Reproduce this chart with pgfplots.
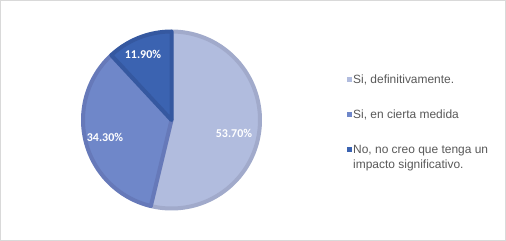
\documentclass[border=0pt]{standalone}
\usepackage{pgfplots}
\pgfplotsset{compat=1.18}
\usepackage{fontspec}
\setmainfont{Liberation Sans}
\newfontfamily\lblfont{Carlito}
\definecolor{cA}{HTML}{B1BCDE}
\definecolor{cAd}{HTML}{A1AACB}
\definecolor{cB}{HTML}{6F87C9}
\definecolor{cBd}{HTML}{6679B9}
\definecolor{cC}{HTML}{3B63B1}
\definecolor{cCd}{HTML}{3558A0}
\definecolor{frame}{HTML}{D9D9D9}
\definecolor{legtext}{HTML}{595959}
\begin{document}
\begin{tikzpicture}
\useasboundingbox (0,0) rectangle (506bp,241bp);
\fill[white] (0,0) rectangle (506bp,241bp);
\draw[color=frame, line width=1bp] (0.5bp,0.5bp) rectangle (505.5bp,240.5bp);
\pgfmathsetmacro{\tot}{53.7+34.3+11.9}
\pgfmathsetmacro{\aA}{90}
\pgfmathsetmacro{\aB}{90-(53.7/\tot)*360}
\pgfmathsetmacro{\aC}{\aB-(34.3/\tot)*360}
\pgfmathsetmacro{\aD}{\aC-(11.9/\tot)*360}
\begin{axis}[at={(171.5bp,121bp)}, anchor=center, width=200bp, height=200bp,
  scale only axis, xmin=-100, xmax=100, ymin=-100, ymax=100, hide axis, clip=false]
\addplot[fill=cA, draw=cAd, line width=4bp, line join=round, domain=\aB:\aA, samples=150, variable=\t]
  ({88.5*cos(\t)},{88.5*sin(\t)}) -- (0,0) -- cycle;
\addplot[fill=cB, draw=cBd, line width=4bp, line join=round, domain=\aC:\aB, samples=120, variable=\t]
  ({88.5*cos(\t)},{88.5*sin(\t)}) -- (0,0) -- cycle;
\addplot[fill=cC, draw=cCd, line width=4bp, line join=round, domain=\aD:\aC, samples=60, variable=\t]
  ({88.5*cos(\t)},{88.5*sin(\t)}) -- (0,0) -- cycle;
\node[text=white, font=\lblfont\bfseries\fontsize{12}{14}\selectfont] at (axis cs:62.5,-13) {53.70\%};
\node[text=white, font=\lblfont\bfseries\fontsize{12}{14}\selectfont] at (axis cs:-66.5,-17) {34.30\%};
\node[text=white, font=\lblfont\bfseries\fontsize{12}{14}\selectfont] at (axis cs:-28.5,66) {11.90\%};
\end{axis}
% legend
\fill[cA] (346.5bp,158.7bp) rectangle ++(5.5bp,5.5bp);
\fill[cB] (346.5bp,123.7bp) rectangle ++(5.5bp,5.5bp);
\fill[cC] (346.5bp,88.7bp) rectangle ++(5.5bp,5.5bp);
\begin{scope}[every node/.style={anchor=base west, inner sep=0pt, text=legtext, font=\fontsize{12}{14}\selectfont}]
\node at (353bp,157.5bp) {Si, definitivamente.};
\node at (353bp,122.5bp) {Si, en cierta medida};
\node at (353bp,87.5bp) {No, no creo que tenga un};
\node at (353bp,72bp) {impacto significativo.};
\end{scope}
\end{tikzpicture}
\end{document}
